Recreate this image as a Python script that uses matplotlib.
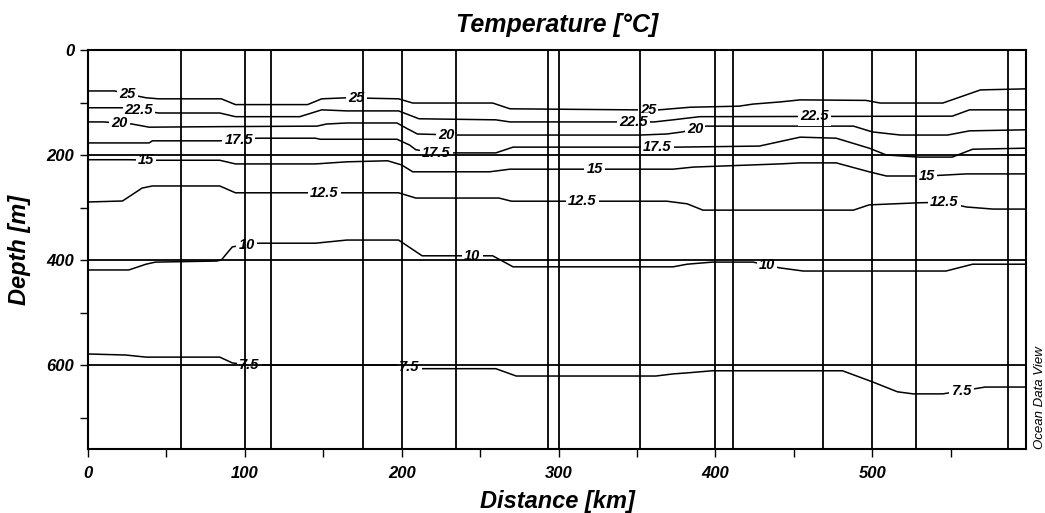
import numpy as np
import matplotlib
matplotlib.use("Agg")
import matplotlib.pyplot as plt
from matplotlib.ticker import FixedLocator

plt.rcParams['font.family'] = ['Liberation Sans', 'DejaVu Sans']

# ---- data -------------------------------------------------------------
stations_km = [59, 116.5, 175.5, 234.8, 293.5, 351.6, 411, 468.5, 528, 586.5]

iso_25_x = [0, 17, 32, 37, 45, 85, 94, 140, 149, 165, 198, 207, 258, 269, 348, 364, 384, 415, 424, 441, 454, 496, 505, 545, 569, 598]
iso_25_d = [78, 78, 88, 91, 93, 93, 104, 104, 93, 91, 93, 101, 101, 112, 114, 114, 109, 107, 103, 99, 95, 96, 101, 101, 76, 74]

iso_225_x = [0, 22, 45, 84, 94, 135, 149, 165, 198, 211, 260, 269, 361, 373, 390, 551, 562, 598]
iso_225_d = [110, 110, 120, 120, 127, 127, 114, 116, 116, 131, 133, 137, 137, 133, 127, 126, 114, 114]

iso_20_x = [0, 10, 28, 39, 84, 146, 152, 165, 197, 203, 210, 236, 352, 369, 379, 394, 488, 500, 518, 548, 562, 598]
iso_20_d = [137, 137, 141, 147, 146, 145, 141, 139, 139, 149, 160, 162, 162, 160, 156, 145, 145, 156, 162, 162, 154, 152]

iso_175_x = [0, 39, 41, 84, 108, 145, 148, 197, 205, 209, 222, 234, 260, 271, 376, 428, 454, 477, 498, 509, 530, 551, 564, 598]
iso_175_d = [177, 177, 173, 173, 168, 168, 170, 170, 181, 190, 196, 196, 196, 185, 185, 183, 166, 168, 187, 200, 204, 204, 189, 187]

iso_15_x = [0, 26, 43, 84, 94, 145, 165, 191, 200, 207, 256, 269, 373, 386, 441, 454, 477, 498, 509, 535, 560, 598]
iso_15_d = [209, 209, 210, 210, 217, 217, 213, 211, 219, 232, 232, 227, 227, 223, 217, 215, 215, 232, 240, 240, 236, 236]

iso_125_x = [0, 22, 34.5, 41, 84, 94, 163, 198, 209, 262, 270, 369, 382, 392, 488, 498, 530, 546, 560, 577, 598]
iso_125_d = [289.5, 287.6, 263, 259, 259, 272, 272, 272, 282, 282, 288, 288, 293, 305, 305, 295, 291, 290, 299, 303, 303]

iso_10_x = [0, 26, 37, 43, 82, 85, 92, 107, 145, 165, 198, 213, 258, 271, 373, 382, 398, 424, 441, 456, 547, 564, 598]
iso_10_d = [419, 419, 408, 404, 402, 400, 375, 368, 368, 362, 362, 392, 392, 413, 413, 408, 404, 404, 415, 421, 421, 408, 408]

iso_75_x = [0, 24, 37, 84, 92, 103, 200, 212, 260, 273, 362, 373, 382, 398, 481, 500, 516, 526, 545, 572, 598]
iso_75_d = [579, 581, 585, 585, 596, 600, 600, 607, 607, 621, 621, 617, 615, 611, 611, 632, 651, 655, 655, 642, 642]

iso_labels = ["25", "22.5", "20", "17.5", "15", "12.5", "10", "7.5"]
iso_xs = [iso_25_x, iso_225_x, iso_20_x, iso_175_x, iso_15_x, iso_125_x, iso_10_x, iso_75_x]
iso_ds = [iso_25_d, iso_225_d, iso_20_d, iso_175_d, iso_15_d, iso_125_d, iso_10_d, iso_75_d]
label_km = [[25, 171, 357], [32.5, 348, 463], [20, 228.5, 387], [96, 222, 363],
            [37, 323, 535], [150.6, 315, 546], [101, 245, 433], [103, 205, 557]]

x_major = [0, 100, 200, 300, 400, 500]
x_minor = [50, 150, 250, 350, 450, 550]
y_major = [0, 200, 400, 600]
y_minor = [100, 300, 500, 700]

# ---- figure -----------------------------------------------------------
W, H = 1045, 513
fig = plt.figure(figsize=(W / 100, H / 100), dpi=100)
ax = fig.add_axes([88 / W, 1 - 449 / H, (1026 - 88) / W, (449 - 50) / H])

ax.set_xlim(0, 598)
ax.set_ylim(760, 0)

for xs, ds in zip(iso_xs, iso_ds):
    ax.plot(xs, ds, color='black', lw=1.1, zorder=2)

for lab, xs, ds, lks in zip(iso_labels, iso_xs, iso_ds, label_km):
    for lk in lks:
        ax.text(lk, np.interp(lk, xs, ds), lab, ha='center', va='center',
                fontsize=10.5, fontweight='bold', style='italic', zorder=3,
                bbox=dict(boxstyle='square,pad=0.15', fc='white', ec='none'))

for s in stations_km:
    ax.axvline(s, color='black', lw=1.3, zorder=4)
for g in x_major[1:]:
    ax.axvline(g, color='black', lw=1.3, zorder=4)
for g in y_major[1:]:
    ax.axhline(g, color='black', lw=1.3, zorder=4)

ax.xaxis.set_major_locator(FixedLocator(x_major))
ax.xaxis.set_minor_locator(FixedLocator(x_minor))
ax.yaxis.set_major_locator(FixedLocator(y_major))
ax.yaxis.set_minor_locator(FixedLocator(y_minor))
ax.tick_params(which='both', direction='out', length=6, width=1, color='black')
ax.tick_params(axis='x', which='major', pad=6)
ax.tick_params(axis='y', which='major', pad=4)
for t in ax.get_xticklabels() + ax.get_yticklabels():
    t.set_fontsize(12)
    t.set_fontweight('bold')
    t.set_fontstyle('italic')

for sp in ax.spines.values():
    sp.set_linewidth(1.5)
    sp.set_zorder(5)

ax.set_title("Temperature [°C]", fontsize=18, fontweight='bold', style='italic', pad=13)
ax.set_xlabel("Distance [km]", fontsize=17, fontweight='bold', style='italic')
ax.set_ylabel("Depth [m]", fontsize=17, fontweight='bold', style='italic')
ax.xaxis.set_label_coords(0.5, (449 - 490) / 399)
ax.yaxis.set_label_coords((31 - 88) / 938, 0.5)

fig.text(1040 / W, (H - 449) / H, "Ocean Data View", rotation=90, ha='center', va='bottom',
         fontsize=9.5, style='italic')

fig.savefig("out.png", dpi=100)
